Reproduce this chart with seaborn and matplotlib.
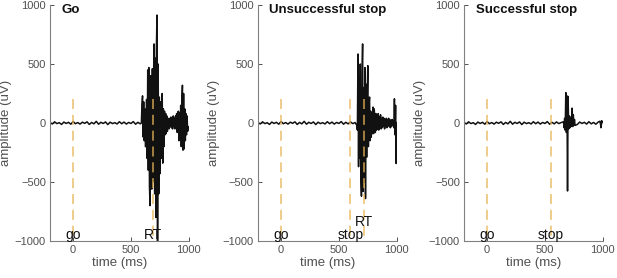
import numpy as np
import pandas as pd
import seaborn as sns
import matplotlib.pyplot as plt

# panel titles and event markers (ms)
TITLES = ["Go", "Unsuccessful stop", "Successful stop"]
GO_TIME = [0, 0, 0]
STOP_TIME = [None, 600, 550]
RT_TIME = [690, 720, None]

# baseline noise, one sample every 20 ms from -200 to 1000 (uV)
BASE_START = -200
BASE_STEP = 20
base_vals = [5, -8, 10, -5, 3, -12, 8, -4, 6, -10,
             12, -6, 4, -9, 7, -3, 10, -12, 5, -7,
             14, -10, 6, -4, 9, -13, 7, -5, 3, -8,
             11, -6, 8, -9, 5, -4, 12, -10, 6, -7,
             9, -5, 4, -11, 7, -6, 10, -8, 5, -12,
             8, -4, 6, -9, 11, -7, 5, -10, 8, -6, 4]

# EMG bursts, one sample every 5 ms (uV)
BURST_STEP = 5
go_start = 590
go_burst = [0, 150, 230, -118, 180, -150, 120, -200, -200, 200,
            -300, 450, -400, 470, -540, -700, 400, 300, -560, 460,
            -500, 380, 670, -600, 550, -800, 640, 915, -1000, 500,
            -600, 220, -430, 180, -300, 150, 250, -340, 120, -200,
            100, -100, 80, -90, 60, -70, 40, 30, -50, 40,
            -30, 50, -40, 30, -50, 60, -30, 40, -50, 60,
            -40, 80, -80, 90, 100, -150, 90, -120, 150, -200,
            200, 320, -230, 250, -220, 120, -150, 80, -100, 60,
            -70, -30, -50]

us_start = 655
us_burst = [-20, -60, 585, -370, 400, -300, 500, -450, -620, 420,
            670, -580, 300, -500, 470, -640, 330, -290, 250, 486,
            -200, 150, 220, -150, 100, -120, 80, -90, 135, -90,
            120, 60, -80, 80, -60, 70, -50, 80, -60, 50,
            -40, 70, -50, 40, -40, 50, -30, 40, -50, 30,
            -30, 40, -40, 30, -20, 40, -30, 30, -40, 20,
            -30, 30, -20, 20, -40, 205, -100, 150, -343]

ss_start = 660
ss_burst = [10, -40, 40, -60, 258, -80, 230, -576, 225, -50,
            60, -40, 50, -30, 40, 126, -30, 70, -20, 30, -20]
ss_tail_start = 975
ss_tail = [15, -10, -40, 20, 5]


def make_trace(segments):
    base_t = BASE_START + BASE_STEP * np.arange(len(base_vals))
    parts = [pd.DataFrame({"t": base_t, "v": base_vals})]
    keep = np.ones(len(base_t), dtype=bool)
    for start, vals in segments:
        t = start + BURST_STEP * np.arange(len(vals))
        keep &= ~((base_t >= t[0]) & (base_t <= t[-1]))
        parts.append(pd.DataFrame({"t": t, "v": vals}))
    parts[0] = parts[0][keep]
    return pd.concat(parts).sort_values("t").reset_index(drop=True)


traces = [
    make_trace([(go_start, go_burst)]),
    make_trace([(us_start, us_burst)]),
    make_trace([(ss_start, ss_burst), (ss_tail_start, ss_tail)]),
]

sns.set_style("ticks")
plt.rcParams["font.family"] = ["Liberation Sans", "DejaVu Sans"]

fig = plt.figure(figsize=(6.17, 2.78), dpi=100)
lefts = [0.081, 0.418, 0.752]
grey = "#505050"
dash_col = "#E8B455"

for i, left in enumerate(lefts):
    ax = fig.add_axes([left, 0.133, 0.225, 0.849])
    sns.lineplot(data=traces[i], x="t", y="v", ax=ax, color="#111111",
                 lw=1.1, estimator=None, sort=False)

    # event markers
    events = [(GO_TIME[i], "go", -950)]
    if STOP_TIME[i] is not None:
        events.append((STOP_TIME[i], "stop", -950))
    if RT_TIME[i] is not None:
        events.append((RT_TIME[i], "RT", -950 if STOP_TIME[i] is None else -835))
    for t, lab, ty in events:
        ax.plot([t, t], [200, -1000], ls=(0, (6, 3.5)), color=dash_col,
                lw=1.2, alpha=0.8, zorder=3)
        ax.text(t, ty, lab, ha="center", va="center", fontsize=10,
                color="#111111", zorder=4)

    ax.text(-100, 955, TITLES[i], ha="left", va="center", fontsize=9.5,
            fontweight="bold", color="#111111")

    ax.set_xlim(-200, 1000)
    ax.set_ylim(-1000, 1000)
    ax.set_xticks([0, 500, 1000])
    ax.set_yticks([-1000, -500, 0, 500, 1000])
    ax.set_xlabel("time (ms)", fontsize=9.5, color=grey, labelpad=1)
    ax.set_ylabel("amplitude (uV)", fontsize=9.5, color=grey, labelpad=2)
    ax.tick_params(direction="in", length=3, width=0.7, colors=grey,
                   labelsize=8, pad=3)
    sns.despine(ax=ax)
    for s in ["left", "bottom"]:
        ax.spines[s].set_color("#808080")
        ax.spines[s].set_linewidth(0.8)

fig.savefig("out.png", dpi=100)
